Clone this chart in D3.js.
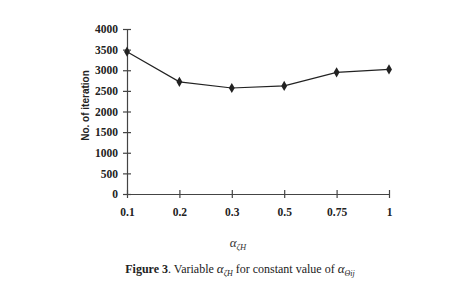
<!DOCTYPE html>
<meta charset="utf-8">
<style>
body { margin: 0; background: #fff; }
.axis path, .axis line { stroke: #444; stroke-width: 1.2; }
</style>
<svg width="471" height="305"></svg>
<script src="https://d3js.org/d3.v7.min.js"></script>
<script>
// categories and values
var alphaLabels = ['0.1', '0.2', '0.3', '0.5', '0.75', '1'];
var iterations = [3450, 2720, 2570, 2620, 2950, 3020];
var yTicks = [0, 500, 1000, 1500, 2000, 2500, 3000, 3500, 4000];

var svg = d3.select('svg');
var margin = {top: 29, left: 127, right: 82, bottom: 111};
var width = +svg.attr('width') - margin.left - margin.right;
var height = +svg.attr('height') - margin.top - margin.bottom;
var serif = '"Liberation Serif", "Times New Roman", serif';

var g = svg.append('g')
  .attr('transform', `translate(${margin.left}, ${margin.top})`);

var x = d3.scalePoint().domain(alphaLabels).range([0, width]).padding(0);
var y = d3.scaleLinear().domain([0, 4000]).range([height, 0]);

// axes, ticks cross the axis line
var xAxis = g.append('g')
  .attr('class', 'axis')
  .attr('transform', `translate(0, ${height})`)
  .call(d3.axisBottom(x).tickSizeInner(4).tickSizeOuter(0).tickPadding(10));
xAxis.selectAll('.tick line').attr('y1', -4);

var yAxis = g.append('g')
  .attr('class', 'axis')
  .call(d3.axisLeft(y).tickValues(yTicks).tickFormat(d3.format('d'))
    .tickSizeInner(4).tickSizeOuter(0).tickPadding(5));
yAxis.selectAll('.tick line').attr('x1', 4);

g.selectAll('.axis')
  .attr('font-family', serif)
  .attr('font-size', 11.5)
  .attr('font-weight', 'bold');
g.selectAll('.axis .tick text').attr('fill', '#222');

var line = d3.line()
  .x(function (d, i) { return x(alphaLabels[i]); })
  .y(function (d) { return y(d); });

g.append('path')
  .datum(iterations)
  .attr('fill', 'none')
  .attr('stroke', '#222')
  .attr('stroke-width', 1.2)
  .attr('d', line);

g.selectAll('.pt')
  .data(iterations)
  .enter()
  .append('path')
  .attr('class', 'pt')
  .attr('d', d3.symbol().type(d3.symbolDiamond).size(30))
  .attr('fill', '#222')
  .attr('transform', function (d, i) {
    return `translate(${x(alphaLabels[i])}, ${y(d)})`;
  });

// y axis title
svg.append('text')
  .attr('transform', `translate(89, ${margin.top + height / 2 - 6}) rotate(-90)`)
  .attr('text-anchor', 'middle')
  .attr('font-family', '"Liberation Sans", Arial, sans-serif')
  .attr('font-weight', 'bold')
  .attr('font-size', 10)
  .attr('fill', '#222')
  .text('No. of iteration');

// x axis title: alpha with subscript
var xt = svg.append('text')
  .attr('x', 238)
  .attr('y', 247)
  .attr('text-anchor', 'middle')
  .attr('font-family', serif)
  .attr('font-style', 'italic')
  .attr('font-size', 13)
  .attr('fill', '#333');
xt.append('tspan').text('α');
xt.append('tspan').attr('font-size', 8.5).attr('dy', 3).text('ζH');

// caption
var cap = svg.append('text')
  .attr('x', 240)
  .attr('y', 273)
  .attr('text-anchor', 'middle')
  .attr('font-family', serif)
  .attr('font-size', 12)
  .attr('fill', '#222');
cap.append('tspan').attr('font-weight', 'bold').text('Figure 3');
cap.append('tspan').text('. Variable ');
cap.append('tspan').attr('font-style', 'italic').attr('font-size', 13).text('α');
cap.append('tspan').attr('font-style', 'italic').attr('font-size', 8).attr('dy', 3).text('ζH');
cap.append('tspan').attr('dy', -3).text('  for constant value of ');
cap.append('tspan').attr('font-style', 'italic').attr('font-size', 13).text('α');
cap.append('tspan').attr('font-style', 'italic').attr('font-size', 8).attr('dy', 3).text('Θij');
</script>
